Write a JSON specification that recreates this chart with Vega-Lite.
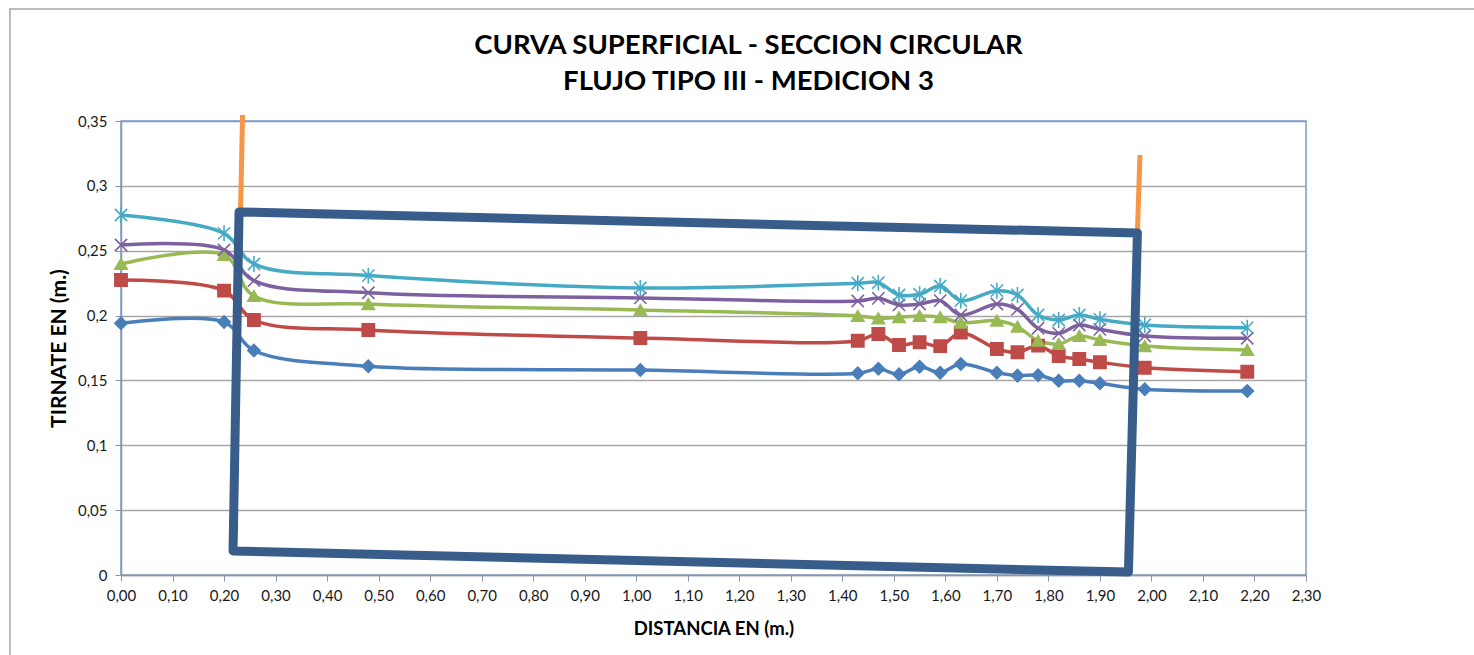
{
  "$schema": "https://vega.github.io/schema/vega-lite/v6.json",
  "width": 1185,
  "height": 454,
  "autosize": {"type": "none"},
  "padding": {"left": 121, "top": 121, "right": 168, "bottom": 80},
  "background": "white",
  "config": {
    "view": {"stroke": "#7F9CC6", "strokeWidth": 1.5},
    "font": "Lato"
  },
  "title": {
    "text": ["CURVA SUPERFICIAL - SECCION CIRCULAR", "FLUJO TIPO III - MEDICION 3"],
    "font": "Lato",
    "fontWeight": "bold",
    "fontSize": 27.5,
    "color": "#000000",
    "anchor": "middle",
    "frame": "group",
    "dx": 35,
    "offset": -87,
    "lineHeight": 36
  },
  "datasets": {
    "series": [
      {"x": 0, "y": 0.194, "s": "Serie1"},
      {"x": 0.2, "y": 0.195, "s": "Serie1"},
      {"x": 0.258, "y": 0.173, "s": "Serie1"},
      {"x": 0.48, "y": 0.161, "s": "Serie1"},
      {"x": 1.008, "y": 0.158, "s": "Serie1"},
      {"x": 1.43, "y": 0.1555, "s": "Serie1"},
      {"x": 1.47, "y": 0.159, "s": "Serie1"},
      {"x": 1.51, "y": 0.1547, "s": "Serie1"},
      {"x": 1.55, "y": 0.1606, "s": "Serie1"},
      {"x": 1.59, "y": 0.156, "s": "Serie1"},
      {"x": 1.63, "y": 0.1627, "s": "Serie1"},
      {"x": 1.7, "y": 0.156, "s": "Serie1"},
      {"x": 1.74, "y": 0.1537, "s": "Serie1"},
      {"x": 1.78, "y": 0.154, "s": "Serie1"},
      {"x": 1.82, "y": 0.1498, "s": "Serie1"},
      {"x": 1.86, "y": 0.1498, "s": "Serie1"},
      {"x": 1.9, "y": 0.1478, "s": "Serie1"},
      {"x": 1.987, "y": 0.1432, "s": "Serie1"},
      {"x": 2.186, "y": 0.1419, "s": "Serie1"},
      {"x": 0, "y": 0.2274, "s": "Serie2"},
      {"x": 0.2, "y": 0.2192, "s": "Serie2"},
      {"x": 0.258, "y": 0.1966, "s": "Serie2"},
      {"x": 0.48, "y": 0.1889, "s": "Serie2"},
      {"x": 1.008, "y": 0.1827, "s": "Serie2"},
      {"x": 1.43, "y": 0.1806, "s": "Serie2"},
      {"x": 1.47, "y": 0.1858, "s": "Serie2"},
      {"x": 1.51, "y": 0.1773, "s": "Serie2"},
      {"x": 1.55, "y": 0.1794, "s": "Serie2"},
      {"x": 1.59, "y": 0.1765, "s": "Serie2"},
      {"x": 1.63, "y": 0.1868, "s": "Serie2"},
      {"x": 1.7, "y": 0.1742, "s": "Serie2"},
      {"x": 1.74, "y": 0.1717, "s": "Serie2"},
      {"x": 1.78, "y": 0.1768, "s": "Serie2"},
      {"x": 1.82, "y": 0.1688, "s": "Serie2"},
      {"x": 1.86, "y": 0.1665, "s": "Serie2"},
      {"x": 1.9, "y": 0.164, "s": "Serie2"},
      {"x": 1.987, "y": 0.1598, "s": "Serie2"},
      {"x": 2.186, "y": 0.1567, "s": "Serie2"},
      {"x": 0, "y": 0.2398, "s": "Serie3"},
      {"x": 0.2, "y": 0.2467, "s": "Serie3"},
      {"x": 0.258, "y": 0.2151, "s": "Serie3"},
      {"x": 0.48, "y": 0.2089, "s": "Serie3"},
      {"x": 1.008, "y": 0.2043, "s": "Serie3"},
      {"x": 1.43, "y": 0.1997, "s": "Serie3"},
      {"x": 1.47, "y": 0.1979, "s": "Serie3"},
      {"x": 1.51, "y": 0.1987, "s": "Serie3"},
      {"x": 1.55, "y": 0.1997, "s": "Serie3"},
      {"x": 1.59, "y": 0.1987, "s": "Serie3"},
      {"x": 1.63, "y": 0.1945, "s": "Serie3"},
      {"x": 1.7, "y": 0.196, "s": "Serie3"},
      {"x": 1.74, "y": 0.1914, "s": "Serie3"},
      {"x": 1.78, "y": 0.1806, "s": "Serie3"},
      {"x": 1.82, "y": 0.1781, "s": "Serie3"},
      {"x": 1.86, "y": 0.1843, "s": "Serie3"},
      {"x": 1.9, "y": 0.1812, "s": "Serie3"},
      {"x": 1.987, "y": 0.1765, "s": "Serie3"},
      {"x": 2.186, "y": 0.1735, "s": "Serie3"},
      {"x": 0, "y": 0.2544, "s": "Serie4"},
      {"x": 0.2, "y": 0.2506, "s": "Serie4"},
      {"x": 0.258, "y": 0.2269, "s": "Serie4"},
      {"x": 0.48, "y": 0.2176, "s": "Serie4"},
      {"x": 1.008, "y": 0.2136, "s": "Serie4"},
      {"x": 1.43, "y": 0.2112, "s": "Serie4"},
      {"x": 1.47, "y": 0.2133, "s": "Serie4"},
      {"x": 1.51, "y": 0.2082, "s": "Serie4"},
      {"x": 1.55, "y": 0.2089, "s": "Serie4"},
      {"x": 1.59, "y": 0.2115, "s": "Serie4"},
      {"x": 1.63, "y": 0.2004, "s": "Serie4"},
      {"x": 1.7, "y": 0.2089, "s": "Serie4"},
      {"x": 1.74, "y": 0.2048, "s": "Serie4"},
      {"x": 1.78, "y": 0.1902, "s": "Serie4"},
      {"x": 1.82, "y": 0.1863, "s": "Serie4"},
      {"x": 1.86, "y": 0.1927, "s": "Serie4"},
      {"x": 1.9, "y": 0.1894, "s": "Serie4"},
      {"x": 1.987, "y": 0.1843, "s": "Serie4"},
      {"x": 2.186, "y": 0.1825, "s": "Serie4"},
      {"x": 0, "y": 0.2775, "s": "Serie5"},
      {"x": 0.2, "y": 0.2634, "s": "Serie5"},
      {"x": 0.258, "y": 0.2398, "s": "Serie5"},
      {"x": 0.48, "y": 0.2308, "s": "Serie5"},
      {"x": 1.008, "y": 0.2213, "s": "Serie5"},
      {"x": 1.43, "y": 0.2249, "s": "Serie5"},
      {"x": 1.47, "y": 0.2254, "s": "Serie5"},
      {"x": 1.51, "y": 0.2159, "s": "Serie5"},
      {"x": 1.55, "y": 0.2164, "s": "Serie5"},
      {"x": 1.59, "y": 0.2228, "s": "Serie5"},
      {"x": 1.63, "y": 0.2115, "s": "Serie5"},
      {"x": 1.7, "y": 0.2192, "s": "Serie5"},
      {"x": 1.74, "y": 0.2159, "s": "Serie5"},
      {"x": 1.78, "y": 0.2004, "s": "Serie5"},
      {"x": 1.82, "y": 0.1966, "s": "Serie5"},
      {"x": 1.86, "y": 0.2004, "s": "Serie5"},
      {"x": 1.9, "y": 0.1971, "s": "Serie5"},
      {"x": 1.987, "y": 0.1927, "s": "Serie5"},
      {"x": 2.186, "y": 0.1907, "s": "Serie5"}
    ],
    "frame": [
      {"x": -0.2155, "x2": 3.0, "y": 0.4364, "y2": -0.3}
    ],
    "orange": [
      {"x": 0.2359, "y": 0.3546, "g": "a", "o": 1},
      {"x": 0.232, "y": 0.2799, "g": "a", "o": 2},
      {"x": 1.9777, "y": 0.3238, "g": "b", "o": 1},
      {"x": 1.9728, "y": 0.2637, "g": "b", "o": 2}
    ],
    "box": [
      {"x": 0.2291, "y": 0.2799, "o": 1},
      {"x": 1.9728, "y": 0.2637, "o": 2},
      {"x": 1.9553, "y": 0.0023, "o": 3},
      {"x": 0.2175, "y": 0.0185, "o": 4},
      {"x": 0.2291, "y": 0.2799, "o": 5},
      {"x": 0.4, "y": 0.2783, "o": 6}
    ]
  },
  "encoding": {
    "x": {
      "field": "x",
      "type": "quantitative",
      "scale": {"domain": [0, 2.3], "nice": false, "zero": false},
      "axis": {
        "values": [0, 0.1, 0.2, 0.3, 0.4, 0.5, 0.6, 0.7, 0.8, 0.9, 1.0, 1.1, 1.2, 1.3, 1.4, 1.5, 1.6, 1.7, 1.8, 1.9, 2.0, 2.1, 2.2, 2.3],
        "labelExpr": "replace(format(datum.value, '.2f'), '.', ',')",
        "labelFont": "Lato",
        "labelFontSize": 15,
        "labelColor": "#1a1a1a",
        "labelPadding": 7,
        "labelFlush": false,
        "labelOverlap": false,
        "tickColor": "#8B97A8",
        "tickSize": 6,
        "domainColor": "#8B97A8",
        "domainWidth": 1.5,
        "grid": false,
        "title": "DISTANCIA EN (m.)",
        "titleFont": "Lato",
        "titleFontWeight": "bold",
        "titleFontSize": 18.5,
        "titleColor": "#000000",
        "titlePadding": 16
      }
    },
    "y": {
      "field": "y",
      "type": "quantitative",
      "scale": {"domain": [0, 0.35], "nice": false, "zero": false},
      "axis": {
        "values": [0, 0.05, 0.1, 0.15, 0.2, 0.25, 0.3, 0.35],
        "labelExpr": "replace('' + datum.value, '.', ',')",
        "labelFont": "Lato",
        "labelFontSize": 15,
        "labelColor": "#1a1a1a",
        "labelPadding": 8,
        "labelFlush": false,
        "tickColor": "#8B97A8",
        "tickSize": 6,
        "domainColor": "#8B97A8",
        "domainWidth": 1.5,
        "grid": true,
        "gridColor": {"condition": {"test": "datum.value >= 0.35", "value": "#7F9CC6"}, "value": "#A6A6A6"},
        "gridWidth": 1.3,
        "title": "TIRNATE EN (m.)",
        "titleFont": "Lato",
        "titleFontWeight": "bold",
        "titleFontSize": 21,
        "titleColor": "#000000",
        "titlePadding": 8
      }
    }
  },
  "layer": [
    {
      "data": {"name": "frame"},
      "mark": {"type": "rect", "fill": null, "fillOpacity": 0, "stroke": "#A6A6A6", "strokeWidth": 1.5, "clip": false},
      "encoding": {"x2": {"field": "x2"}, "y2": {"field": "y2"}}
    },
    {
      "data": {"name": "series"},
      "mark": {"type": "line", "interpolate": "catmull-rom", "strokeWidth": 3.5},
      "encoding": {
        "color": {
          "field": "s", "type": "nominal",
          "scale": {"domain": ["Serie1", "Serie2", "Serie3", "Serie4", "Serie5"], "range": ["#4A7EBB", "#BE4B48", "#98B954", "#7D60A0", "#46AAC5"]},
          "legend": null
        }
      }
    },
    {
      "data": {"name": "series"},
      "mark": {"type": "point", "filled": true, "opacity": 1, "size": 150, "strokeWidth": 1.6},
      "encoding": {
        "color": {"field": "s", "type": "nominal", "legend": null},
        "stroke": {"field": "s", "type": "nominal", "legend": null, "scale": {"domain": ["Serie1", "Serie2", "Serie3", "Serie4", "Serie5"], "range": ["#4A7EBB", "#BE4B48", "#98B954", "#7D60A0", "#46AAC5"]}},
        "shape": {
          "field": "s", "type": "nominal", "legend": null,
          "scale": {"domain": ["Serie1", "Serie2", "Serie3", "Serie4", "Serie5"], "range": ["diamond", "square", "triangle-up", "M-1,-1L1,1M-1,1L1,-1", "M-1,-1L1,1M-1,1L1,-1M0,-1.3L0,1.3"]}
        }
      }
    },
    {
      "data": {"name": "orange"},
      "mark": {"type": "line", "color": "#F79646", "strokeWidth": 5, "clip": false},
      "encoding": {"detail": {"field": "g"}, "order": {"field": "o"}}
    },
    {
      "data": {"name": "box"},
      "mark": {"type": "line", "color": "#385D8A", "strokeWidth": 9, "strokeJoin": "round", "clip": false},
      "encoding": {"order": {"field": "o"}}
    }
  ]
}
